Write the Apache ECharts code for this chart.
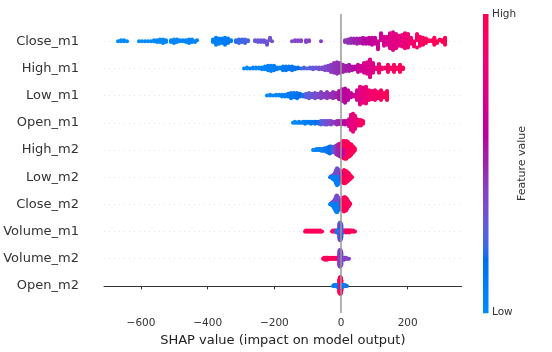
<!DOCTYPE html>
<html><head><meta charset="utf-8">
<script src="https://cdn.jsdelivr.net/npm/echarts@6/dist/echarts.min.js"></script>
<style>html,body{margin:0;padding:0;background:#fff}#c{width:552px;height:352px}</style>
</head><body><div id="c"></div>
<script>
// Feature names, top to bottom
const features = ['Close_m1','High_m1','Low_m1','Open_m1','High_m2','Low_m2','Close_m2','Volume_m1','Volume_m2','Open_m2'];
const xTicks = [-600,-400,-200,0,200];
const xTitle = 'SHAP value (impact on model output)';
const cbTitle = 'Feature value';
const cbHigh = 'High', cbLow = 'Low';

// Each entry: [SHAP value, number of samples at that value, normalized feature value 0..1]
const close_m1 = [
[-669,1,0.0],[-660,2,0.0],[-651,2,0.01],[-642,1,0.0],
[-606,1,0.01],[-597,1,0.0],[-588,1,0.01],[-579,1,0.0],[-570,1,0.02],[-561,2,0.01],[-552,3,0.02],[-543,4,0.01],[-534,5,0.02],[-525,3,0.03],
[-510,3,0.02],[-501,5,0.03],[-492,4,0.02],[-483,2,0.03],
[-474,2,0.03],[-465,3,0.04],[-456,5,0.03],[-447,4,0.04],[-438,2,0.05],[-432,1,0.05],
[-384,4,0.06],[-375,9,0.07],[-366,7,0.08],[-357,6,0.08],[-348,9,0.09],[-339,6,0.1],[-330,2,0.12],
[-315,3,0.2],[-306,5,0.22],[-297,4,0.23],[-288,5,0.24],[-279,2,0.25],
[-258,2,0.3],[-249,3,0.31],[-240,3,0.32],[-231,3,0.33],[-222,5,0.33],[-213,4,0.34],[-207,1,0.35],
[-147,1,0.38],[-138,2,0.39],[-129,2,0.38],[-120,2,0.4],
[-105,3,0.4],[-96,2,0.41],
[-60,1,0.42],
[12,3,0.45],[21,5,0.46],[30,6,0.48],[39,6,0.5],[48,7,0.52],[57,6,0.55],[66,8,0.57],[75,7,0.6],[84,8,0.62],[93,9,0.63],[102,8,0.65],[111,10,0.67],[120,9,0.68],[129,11,0.7],[138,10,0.72],[147,18,0.74],[156,21,0.76],[165,17,0.77],[174,12,0.78],[183,14,0.8],[192,18,0.83],[201,16,0.85],[210,8,0.87],[219,7,0.88],[228,9,0.9],[237,11,0.92],[246,9,0.93],[255,6,0.94],[264,2,0.95],[273,2,0.96],[280,9,0.97],[288,3,0.98],[296,2,0.98],[304,3,0.99],[312,9,0.99]
];
const high_m1 = [
[-291,1,0.02],[-282,2,0.02],[-273,1,0.03],[-264,2,0.03],[-255,2,0.04],[-246,2,0.04],[-237,3,0.05],[-228,4,0.05],[-219,6,0.06],[-210,7,0.06],[-201,6,0.07],[-192,3,0.08],[-183,2,0.1],[-174,5,0.1],[-165,5,0.12],[-156,4,0.13],[-147,5,0.14],[-138,3,0.16],[-129,2,0.18],[-120,1,0.2],
[-111,2,0.25],[-102,1,0.27],[-93,2,0.28],[-84,3,0.3],[-75,2,0.32],[-66,3,0.34],[-57,3,0.36],[-48,5,0.38],[-39,6,0.4],[-30,9,0.42],[-21,12,0.44],[-12,14,0.46],[-3,12,0.48],[6,9,0.5],[15,7,0.52],[24,8,0.54],[33,5,0.56],
[42,4,0.6],[51,9,0.65],[60,7,0.68],[69,12,0.7],[78,14,0.72],[87,21,0.74],[96,12,0.76],[105,3,0.82],[114,11,0.85],[123,3,0.87],[132,2,0.88],[141,9,0.9],[150,3,0.91],[159,9,0.92],[168,3,0.93],[177,9,0.95],[186,3,0.97]
];
const low_m1 = [
[-222,1,0.02],[-213,2,0.02],[-204,1,0.03],[-195,2,0.04],[-186,2,0.05],[-177,3,0.06],[-168,3,0.08],[-159,4,0.1],[-150,7,0.12],[-141,6,0.14],[-132,7,0.15],[-123,4,0.18],[-114,3,0.2],
[-105,5,0.28],[-96,7,0.3],[-87,5,0.32],[-78,7,0.35],[-69,5,0.37],[-60,8,0.4],[-51,5,0.42],[-42,8,0.43],[-33,5,0.45],[-24,8,0.47],[-15,6,0.5],
[-6,10,0.55],[3,14,0.58],[12,17,0.6],[21,12,0.62],[30,6,0.65],[39,3,0.68],
[48,12,0.72],[57,21,0.76],[66,18,0.8],[75,20,0.83],[84,12,0.86],[93,10,0.88],[102,12,0.9],[111,8,0.92],[120,12,0.94],[129,6,0.96],[138,11,0.98]
];
const open_m1 = [
[-144,1,0.02],[-138,2,0.03],[-132,1,0.03],[-126,2,0.04],[-120,1,0.05],[-114,2,0.06],[-108,3,0.07],[-102,2,0.08],[-96,2,0.1],[-90,3,0.12],[-84,2,0.14],[-78,3,0.16],[-72,2,0.18],[-66,3,0.2],
[-60,5,0.25],[-54,4,0.3],[-48,5,0.33],[-42,5,0.35],[-36,4,0.37],[-30,5,0.4],[-24,2,0.42],
[-18,3,0.45],[-12,5,0.48],[-6,4,0.5],[0,5,0.52],[6,4,0.55],[12,5,0.6],[18,4,0.65],
[24,9,0.72],[30,18,0.78],[36,21,0.8],[42,16,0.82],[48,8,0.85],[54,7,0.88],[60,7,0.9],[66,4,0.95]
];
const high_m2 = [
[-84,1,0.03],[-79,1,0.04],[-74,2,0.05],[-69,2,0.06],[-64,2,0.07],[-59,3,0.08],[-54,3,0.1],[-49,4,0.12],[-44,5,0.14],[-39,7,0.16],[-34,9,0.18],[-29,8,0.2],[-24,5,0.25],
[-19,8,0.4],[-14,11,0.45],[-9,13,0.5],[-4,8,0.5],[-4,7,0.75],[1,8,0.55],[1,9,0.85],[6,8,0.6],[6,12,0.9],[11,6,0.7],[11,15,0.95],[16,5,0.8],[16,16,0.97],[21,18,0.95],[26,15,0.97],[31,12,0.95],[36,8,0.97],[41,4,0.98]
];
const low_m2 = [
[-33,1,0.1],[-30,1,0.05],[-30,1,0.35],[-27,2,0.1],[-27,1,0.3],[-24,3,0.05],[-24,2,0.35],[-21,4,0.1],[-21,3,0.3],[-18,5,0.05],[-18,5,0.4],[-15,8,0.1],[-15,8,0.35],[-12,10,0.05],[-12,10,0.3],[-9,9,0.1],[-9,9,0.4],[-6,7,0.05],[-6,7,0.35],[-3,4,0.1],[-3,4,0.45],
[0,4,0.5],[0,5,0.95],[3,9,0.95],[3,3,0.5],[6,11,0.95],[6,3,0.7],[9,13,0.95],[9,3,0.6],[12,13,0.97],[12,2,0.9],[15,14,0.95],[18,12,0.97],[21,10,0.95],[24,8,0.97],[27,5,0.95],[30,3,0.97],[33,1,0.95]
];
const close_m2 = [
[-33,1,0.1],[-30,1,0.05],[-30,1,0.4],[-27,2,0.1],[-27,2,0.35],[-24,3,0.05],[-24,3,0.3],[-21,5,0.1],[-21,4,0.4],[-18,7,0.05],[-18,6,0.35],[-15,9,0.1],[-15,9,0.3],[-12,10,0.05],[-12,10,0.4],[-9,8,0.1],[-9,8,0.35],[-6,6,0.05],[-6,5,0.3],[-3,4,0.1],[-3,3,0.45],
[0,6,0.95],[0,3,0.5],[3,10,0.97],[3,3,0.6],[6,15,0.95],[9,17,0.97],[12,16,0.95],[15,15,0.97],[18,12,0.95],[21,8,0.97],[24,5,0.95],[27,2,0.97]
];
const volume_m1 = [
[-108,1,0.95],[-105,2,0.97],[-102,1,0.93],[-99,2,0.96],[-96,1,0.95],[-93,2,0.98],[-90,1,0.94],[-87,2,0.96],[-84,1,0.95],[-81,2,0.97],[-78,1,0.95],[-75,2,0.93],[-72,1,0.96],[-69,2,0.95],[-66,1,0.97],[-63,2,0.95],[-60,1,0.94],[-57,1,0.96],
[-27,1,0.9],[-24,2,0.95],[-21,1,0.92],[-18,2,0.9],[-15,2,0.2],[-12,3,0.1],[-9,3,0.05],[-7,3,0.1],
[-5,8,0.32],[-5,4,0.12],[-5,4,0.45],[-3.5,9,0.3],[-3.5,5,0.1],[-3.5,5,0.55],[-2,9,0.35],[-2,5,0.15],[-2,4,0.45],[-0.5,8,0.3],[-0.5,5,0.1],[-0.5,4,0.6],[1,7,0.35],[1,4,0.15],[1,3,0.45],
[3,3,0.1],[6,3,0.15],[9,2,0.3],[12,2,0.9],[15,3,0.95],[18,2,0.92],[21,2,0.97],[24,3,0.95],[27,2,0.93],[30,2,0.96],[33,1,0.95],[36,2,0.98],[39,1,0.95],[42,1,0.92]
];
const volume_m2 = [
[-54,1,0.95],[-51,2,0.97],[-48,3,0.93],[-45,2,0.96],[-42,3,0.95],[-39,2,0.98],[-36,1,0.95],[-33,2,0.94],[-30,1,0.96],[-27,2,0.95],[-24,2,0.97],[-21,1,0.95],[-18,2,0.93],[-15,1,0.96],[-12,2,0.95],[-9,1,0.9],[-7,2,0.5],
[-5,8,0.35],[-5,5,0.45],[-5,3,0.9],[-3.5,9,0.4],[-3.5,6,0.3],[-3.5,3,0.1],[-2,9,0.35],[-2,6,0.45],[-2,3,0.95],[-0.5,8,0.4],[-0.5,5,0.3],[-0.5,3,0.85],[1,7,0.35],[1,4,0.45],[1,2,0.1],
[3,3,0.4],[6,2,0.45],[9,3,0.35],[12,2,0.4],[15,2,0.45],[18,1,0.4],[21,1,0.35],[24,1,0.4]
];
const open_m2 = [
[-24,1,0.05],[-21,2,0.1],[-18,2,0.05],[-15,2,0.1],[-12,3,0.05],[-9,3,0.1],[-7,3,0.15],
[-5,3,0.1],[-5,14,0.97],[-3.5,20,0.95],[-2,22,0.97],[-0.5,20,0.95],[1,14,0.97],
[3,3,0.1],[6,3,0.15],[9,2,0.05],[12,2,0.1],[15,1,0.3],[18,1,0.1]
];

const rows = [close_m1, high_m1, low_m1, open_m1, high_m2, low_m2, close_m2, volume_m1, volume_m2, open_m2];

// SHAP red_blue colormap (LCH interpolation, as in shap)
function lch2rgb(L, C, h) {
  const a = C * Math.cos(h), b = C * Math.sin(h);
  let fy = (L + 16) / 116, fx = a / 500 + fy, fz = fy - b / 200;
  if (fz < 0) fz = 0;
  const finv = t => t > 0.2068966 ? t * t * t : (t - 16 / 116) / 7.787;
  const X = finv(fx) * 0.95047, Y = finv(fy) * 1.0, Z = finv(fz) * 1.08883;
  let r = 3.24048134 * X - 1.53715152 * Y - 0.49853633 * Z;
  let g = -0.96925495 * X + 1.87599 * Y + 0.04155593 * Z;
  let bl = 0.05564664 * X - 0.20404134 * Y + 1.05731107 * Z;
  const gam = v => { v = v > 0.0031308 ? 1.055 * Math.pow(v, 1 / 2.4) - 0.055 : 12.92 * v; return Math.round(255 * Math.min(1, Math.max(0, v))); };
  return 'rgb(' + gam(r) + ',' + gam(g) + ',' + gam(bl) + ')';
}
const cmap = [];
(function () {
  const n = 100, bl = [54, 70, 4.6588], lm = 40, rd = [54, 90, 0.35470565 + 2 * Math.PI];
  for (let i = 0; i < n; i++) {
    const L = i < 50 ? bl[0] + (lm - bl[0]) * i / 49 : lm + (rd[0] - lm) * (i - 50) / 49;
    const C = bl[1] + (rd[1] - bl[1]) * i / (n - 1);
    const H = bl[2] + (rd[2] - bl[2]) * i / (n - 1);
    cmap.push(lch2rgb(L, C, H));
  }
})();

// Beeswarm layout as in shap: 100 bins per row, layers alternate around the row centre
function swarm(triples, pos) {
  const pts = [];
  triples.forEach((t, ti) => { for (let k = 0; k < t[1]; k++) pts.push({ v: t[0], f: t[2], k: k, ti: ti }); });
  let mn = Infinity, mx = -Infinity;
  pts.forEach(p => { if (p.v < mn) mn = p.v; if (p.v > mx) mx = p.v; });
  pts.forEach(p => { p.q = Math.round(100 * (p.v - mn) / (mx - mn + 1e-8)); });
  pts.sort((a, b) => a.q - b.q || a.k - b.k || a.ti - b.ti);
  let layer = 0, last = -1;
  pts.forEach(p => {
    if (p.q !== last) layer = 0;
    p.ys = Math.ceil(layer / 2) * ((layer % 2) * 2 - 1);
    layer++; last = p.q;
  });
  let m = -Infinity; pts.forEach(p => { if (p.ys + 1 > m) m = p.ys + 1; });
  const s = 0.9 * 0.4 / m;
  pts.sort((a, b) => Math.abs(b.ys) - Math.abs(a.ys));
  return pts.map(p => [p.v, pos + p.ys * s, p.f]);
}
let points = [];
rows.forEach((r, i) => { points = points.concat(swarm(r, features.length - 1 - i)); });

const FONT = 'DejaVu Sans';
const gL = 104, gT = 14, gW = 357.7, gH = 299.3;
const chart = echarts.init(document.getElementById('c'), null, { renderer: 'canvas', width: 552, height: 352 });
const stops = [];
for (let j = 0; j < cmap.length; j++) stops.push({ offset: j / (cmap.length - 1), color: cmap[cmap.length - 1 - j] });

chart.setOption({
  animation: false,
  backgroundColor: '#fff',
  grid: { left: gL, top: gT, width: gW, height: gH, containLabel: false },
  xAxis: {
    type: 'value', min: -711, max: 362,
    axisLine: { show: true, lineStyle: { color: '#333', width: 1 } },
    axisTick: { show: true, customValues: xTicks, length: 3.5, lineStyle: { color: '#333', width: 1 } },
    axisLabel: { customValues: xTicks, color: '#333', fontSize: 10.5, fontFamily: FONT, margin: 5,
      formatter: v => v < 0 ? '\u2212' + Math.abs(v) : String(v) },
    splitLine: { show: false },
    name: xTitle, nameLocation: 'middle', nameGap: 19,
    nameTextStyle: { color: '#222', fontSize: 13, fontFamily: FONT }
  },
  yAxis: {
    type: 'value', min: -1, max: 10, interval: 1,
    axisLine: { show: false }, axisTick: { show: false },
    axisLabel: { color: '#333', fontSize: 13, fontFamily: FONT, margin: 25,
      formatter: v => (v >= 0 && v <= 9) ? features[9 - v] : '' },
    splitLine: { show: true, showMinLine: false, showMaxLine: false, lineStyle: { color: '#ccc', width: 0.6, type: [1, 4] } }
  },
  visualMap: { show: false, type: 'continuous', seriesIndex: 1, dimension: 2, min: 0, max: 1, inRange: { color: cmap } },
  series: [
    { type: 'line', data: [], z: 1, silent: true,
      markLine: { silent: true, symbol: ['none', 'none'], label: { show: false }, animation: false,
        lineStyle: { color: '#999', width: 1.5, type: 'solid' }, data: [{ xAxis: 0 }] } },
    { type: 'scatter', data: points, symbolSize: 4, z: 3, itemStyle: { opacity: 1, borderWidth: 0 }, silent: true, large: false }
  ],
  graphic: [
    { type: 'rect', shape: { x: 483, y: 14, width: 5.5, height: 299.3 }, style: { fill: { type: 'linear', x: 0, y: 0, x2: 0, y2: 1, colorStops: stops } } },
    { type: 'text', x: 492, y: 14.5, style: { text: cbHigh, fill: '#333', font: '10.5px "DejaVu Sans"', align: 'left', verticalAlign: 'middle' } },
    { type: 'text', x: 492, y: 312.5, style: { text: cbLow, fill: '#333', font: '10.5px "DejaVu Sans"', align: 'left', verticalAlign: 'middle' } },
    { type: 'text', x: 522.5, y: 163.5, rotation: Math.PI / 2, style: { text: cbTitle, fill: '#333', font: '11px "DejaVu Sans"', align: 'center', verticalAlign: 'middle' } }
  ]
});
</script>
</body></html>
